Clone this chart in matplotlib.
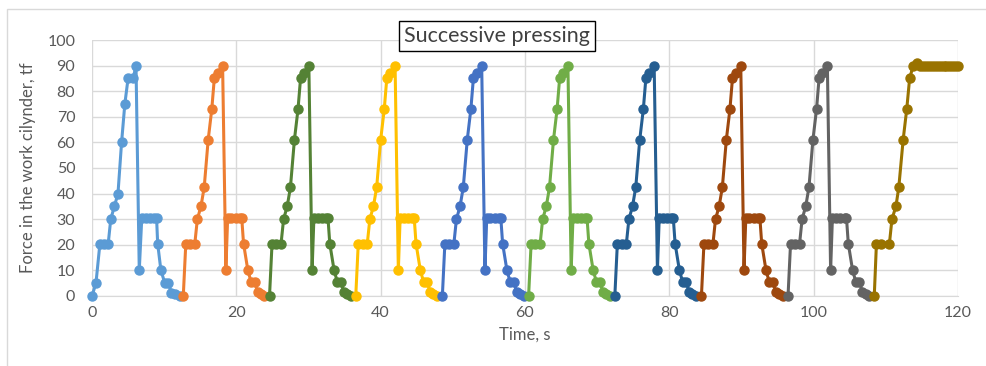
import matplotlib.pyplot as plt
from matplotlib.patches import Rectangle

plt.rcParams['font.family'] = ['Lato', 'DejaVu Sans']

# Time (s) and force (tf) for each successive pressing cycle
t1 = [0, 0.55, 1.1, 1.7, 2.25, 2.6, 3.1, 3.6, 4.1, 4.55, 5.0, 5.7, 6.1, 6.55, 6.9,
      7.5, 8.1, 8.6, 8.95, 9.1, 9.55, 10.1, 10.6, 11.0, 11.5, 12.2]
f1 = [0, 5, 20.5, 20.5, 20.5, 30, 35, 40, 60, 75, 85, 85, 90, 10, 30.5,
      30.5, 30.5, 30.5, 30.5, 20.5, 10, 5, 5, 1.2, 0.8, 0]

t2 = [12.65, 13.0, 13.6, 14.25, 14.6, 15.1, 15.55, 16.1, 16.6, 16.95, 17.4, 18.1,
      18.55, 18.8, 19.3, 19.9, 20.5, 20.75, 21.0, 21.6, 22.05, 22.55, 22.95, 23.4, 23.9]
t3 = [24.6, 24.95, 25.55, 26.2, 26.55, 27.05, 27.5, 28.05, 28.55, 28.9, 29.35, 30.05,
      30.5, 30.75, 31.25, 31.85, 32.45, 32.7, 32.95, 33.55, 34.0, 34.5, 34.9, 35.35, 35.85]
t4 = [36.55, 36.9, 37.5, 38.15, 38.5, 39.0, 39.45, 40.0, 40.5, 40.85, 41.3, 42.0,
      42.45, 42.7, 43.2, 43.8, 44.4, 44.65, 44.9, 45.5, 45.95, 46.45, 46.85, 47.3, 47.8]
t5 = [48.55, 48.9, 49.5, 50.15, 50.5, 51.0, 51.45, 52.0, 52.5, 52.85, 53.3, 54.0,
      54.45, 54.7, 55.2, 55.8, 56.4, 56.65, 56.9, 57.5, 57.95, 58.45, 58.85, 59.3, 59.8]
t6 = [60.5, 60.85, 61.45, 62.1, 62.45, 62.95, 63.4, 63.95, 64.45, 64.8, 65.25, 65.95,
      66.4, 66.65, 67.15, 67.75, 68.35, 68.6, 68.85, 69.45, 69.9, 70.4, 70.8, 71.25, 71.75]
t7 = [72.45, 72.8, 73.4, 74.05, 74.4, 74.9, 75.35, 75.9, 76.4, 76.75, 77.2, 77.9,
      78.35, 78.6, 79.1, 79.7, 80.3, 80.55, 80.8, 81.4, 81.85, 82.35, 82.75, 83.2, 83.7]
t8 = [84.45, 84.8, 85.4, 86.05, 86.4, 86.9, 87.35, 87.9, 88.4, 88.75, 89.2, 89.9,
      90.35, 90.6, 91.1, 91.7, 92.3, 92.55, 92.8, 93.4, 93.85, 94.35, 94.75, 95.2, 95.7]
t9 = [96.45, 96.8, 97.4, 98.05, 98.4, 98.9, 99.35, 99.9, 100.4, 100.75, 101.2, 101.9,
      102.35, 102.6, 103.1, 103.7, 104.3, 104.55, 104.8, 105.4, 105.85, 106.35, 106.75, 107.2, 107.7]
# cycles 2..9 share the same force readings
f_mid = [0, 20.5, 20.5, 20.5, 30, 35, 42.5, 61, 73, 85, 87, 90,
         10, 30.5, 30.5, 30.5, 30.5, 30.5, 20.5, 10, 5.5, 5.5, 1.5, 0.8, 0]

t10 = [108.4, 108.7, 109.3, 110.5, 110.85, 111.4, 111.8, 112.4, 112.9, 113.3, 113.8,
       114.3, 114.8, 115.2, 115.6, 116.0, 116.4, 116.8, 117.2, 117.6, 118.0, 118.4,
       118.8, 119.2, 119.6, 120.0]
f10 = [0, 20.5, 20.5, 20.5, 30, 35, 42.5, 61, 73, 85, 90,
       91, 90, 90, 90, 90, 90, 90, 90, 90, 90, 90,
       90, 90, 90, 90]

cycles = [(t1, f1), (t2, f_mid), (t3, f_mid), (t4, f_mid), (t5, f_mid),
          (t6, f_mid), (t7, f_mid), (t8, f_mid), (t9, f_mid), (t10, f10)]
colors = ['#5B9BD5', '#ED7D31', '#548235', '#FFC000', '#4472C4',
          '#70AD47', '#255E91', '#9E480E', '#636363', '#997300']

fig = plt.figure(figsize=(9.87, 3.66), dpi=100)
ax = fig.add_axes([0.0932, 0.1913, 0.8774, 0.6994])

# light chart-area border (Excel style)
fig.patches.append(Rectangle((6.5 / 987, -0.1), 1.2, 1 - 8.5 / 366 + 0.1,
                             transform=fig.transFigure, fill=False,
                             edgecolor='#d9d9d9', linewidth=1))

for (tt, ff), col in zip(cycles, colors):
    ax.plot(tt, ff, color=col, linewidth=2.2, marker='o', markersize=6.5,
            clip_on=False, zorder=3)

ax.set_xlim(0, 120)
ax.set_ylim(0, 100)
ax.set_xticks(range(0, 121, 20))
ax.set_yticks(range(0, 101, 10))
ax.grid(True, color='#d9d9d9', linewidth=1)
ax.set_axisbelow(True)
for s in ['top', 'right', 'left']:
    ax.spines[s].set_visible(False)
ax.spines['bottom'].set_color('#d9d9d9')
ax.tick_params(length=0, labelsize=11.5, labelcolor='#595959', pad=7)
ax.tick_params(axis='y', pad=12)

ax.set_xlabel('Time, s', fontsize=12, color='#595959', labelpad=5)
ax.set_ylabel('Force in the work cilynder, tf', fontsize=12, color='#595959', labelpad=8)

fig.text(497 / 987, 1 - 36 / 366, 'Successive pressing', fontsize=15.5, color='#404040',
         ha='center', va='center',
         bbox=dict(boxstyle='square,pad=0.25', facecolor='white', edgecolor='black',
                   linewidth=1))

fig.savefig('out.png', dpi=100)
